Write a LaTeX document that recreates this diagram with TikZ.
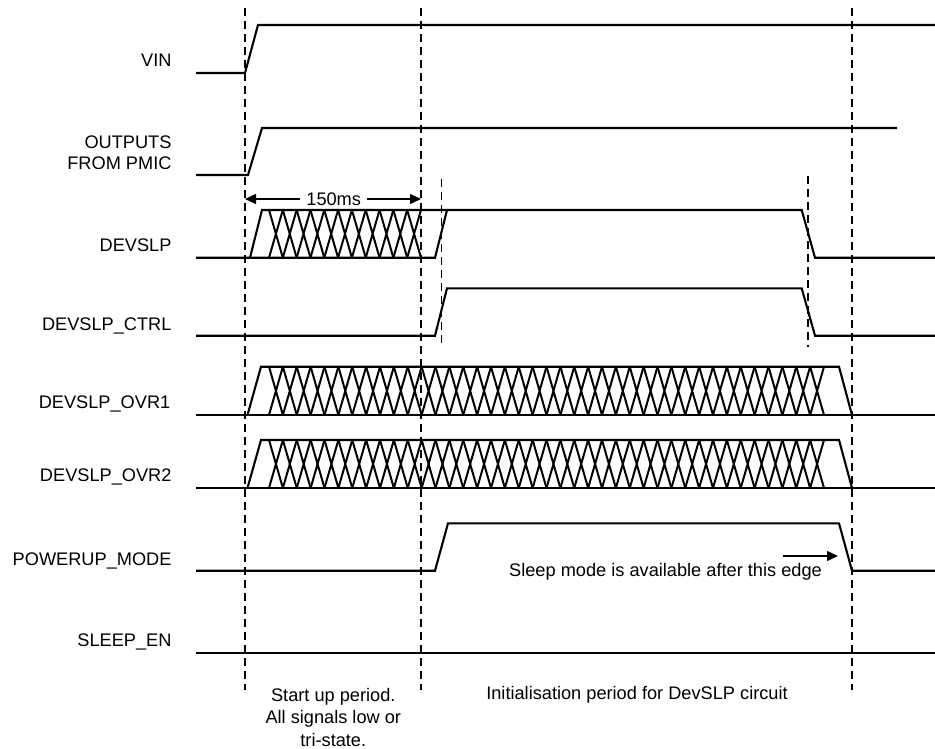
\documentclass[tikz,border=0pt]{standalone}
\usepackage{fontspec}
\setmainfont{Liberation Sans}
\usetikzlibrary{arrows.meta}
\begin{document}
\begin{tikzpicture}[x=1pt,y=-1pt,
  sig/.style={line width=2.1pt, line join=miter},
  hatch/.style={line width=2pt},
  guide/.style={line width=1.1pt, dash pattern=on 8pt off 5pt},
  lbl/.style={font=\fontsize{18.2}{21.7}\selectfont, anchor=base east, inner sep=0pt, align=right},
  note/.style={font=\fontsize{18.2}{22.7}\selectfont, inner sep=0pt, align=center},
  dim/.style={line width=1.3pt, -{Triangle[length=11pt,width=10pt]}}
]
\useasboundingbox (0,0) rectangle (935,749);

% guide lines
\draw[guide] (245,8) -- (245,690);
\draw[guide] (421,8) -- (421,690);
\draw[guide] (852,8) -- (852,690);
\draw[guide] (441.7,179) -- (441.7,347);
\draw[guide] (808,176) -- (808,347);

% labels
\node[lbl] (lvin) at (171.7,66.7) {VIN};
\node[lbl] (lout) at (171.7,170) {OUTPUTS\\FROM PMIC};
\node[lbl] (ldev) at (171.7,251.7) {DEVSLP};
\node[lbl] (lctrl) at (171.7,330) {DEVSLP\_CTRL};
\node[lbl] (lovr1) at (170.5,408.3) {DEVSLP\_OVR1};
\node[lbl] (lovr2) at (171.7,481.7) {DEVSLP\_OVR2};
\node[lbl] (lpwr) at (171.7,565) {POWERUP\_MODE};
\node[lbl] (lslp) at (171.7,646) {SLEEP\_EN};

% VIN
\draw[sig] (196,73) -- (245,73) -- (258,25) -- (935,25);
% OUTPUTS FROM PMIC
\draw[sig] (196,175) -- (248,175) -- (262,128) -- (897,128);
% DEVSLP
\draw[sig] (196,257.7) -- (435,257.7) -- (447,210);
\draw[sig] (250,257.7) -- (262,210) -- (801.7,210) -- (815,257.7) -- (935,257.7);
\foreach \i in {0,...,10} {
  \draw[hatch] ({269+\i*13.818},210) -- ({269+(\i+1)*13.818},257.7)
               ({269+\i*13.818},257.7) -- ({269+(\i+1)*13.818},210);
}
% DEVSLP_CTRL
\draw[sig] (196,335.7) -- (435,335.7) -- (447,288.3) -- (801.7,288.3) -- (815,335.7) -- (935,335.7);
% DEVSLP_OVR1
\draw[sig] (196,415) -- (935,415);
\draw[sig] (247.5,415) -- (261,366.7) -- (839,366.7) -- (852,415);
\foreach \i in {0,...,39} {
  \draw[hatch] ({269+\i*13.875},366.7) -- ({269+(\i+1)*13.875},415)
               ({269+\i*13.875},415) -- ({269+(\i+1)*13.875},366.7);
}
% DEVSLP_OVR2
\draw[sig] (196,488) -- (935,488);
\draw[sig] (247.5,488) -- (261,440) -- (839,440) -- (852,488);
\foreach \i in {0,...,39} {
  \draw[hatch] ({269+\i*13.875},440) -- ({269+(\i+1)*13.875},488)
               ({269+\i*13.875},488) -- ({269+(\i+1)*13.875},440);
}
% POWERUP_MODE
\draw[sig] (196,570.7) -- (435,570.7) -- (448,523.3) -- (839,523.3) -- (852,570.7) -- (935,570.7);
% SLEEP_EN
\draw[sig] (196,652.7) -- (935,652.7);

% 150ms dimension
\coordinate (d1) at (245,199);
\coordinate (d2) at (421,199);
\node[font=\fontsize{18.2}{22}\selectfont, inner xsep=6pt, inner ysep=0pt, anchor=base] (t150) at (333.7,205) {150ms};
\draw[dim] (t150.west |- d1) -- (d1);
\draw[dim] (t150.east |- d2) -- (d2);

% sleep mode note
\node[note, anchor=base] (tsleep) at (665.5,576.7) {Sleep mode is available after this edge};
\coordinate (sa) at (783,556);
\coordinate (sb) at (838,556);
\draw[dim] (sa) -- (sb);

% period notes
\node[note, anchor=base] (tstart) at (333.3,746.5) {Start up period.\\All signals low or\\tri-state.};
\node[note, anchor=base] (tinit) at (637,699) {Initialisation period for DevSLP circuit};
\end{tikzpicture}
\end{document}
